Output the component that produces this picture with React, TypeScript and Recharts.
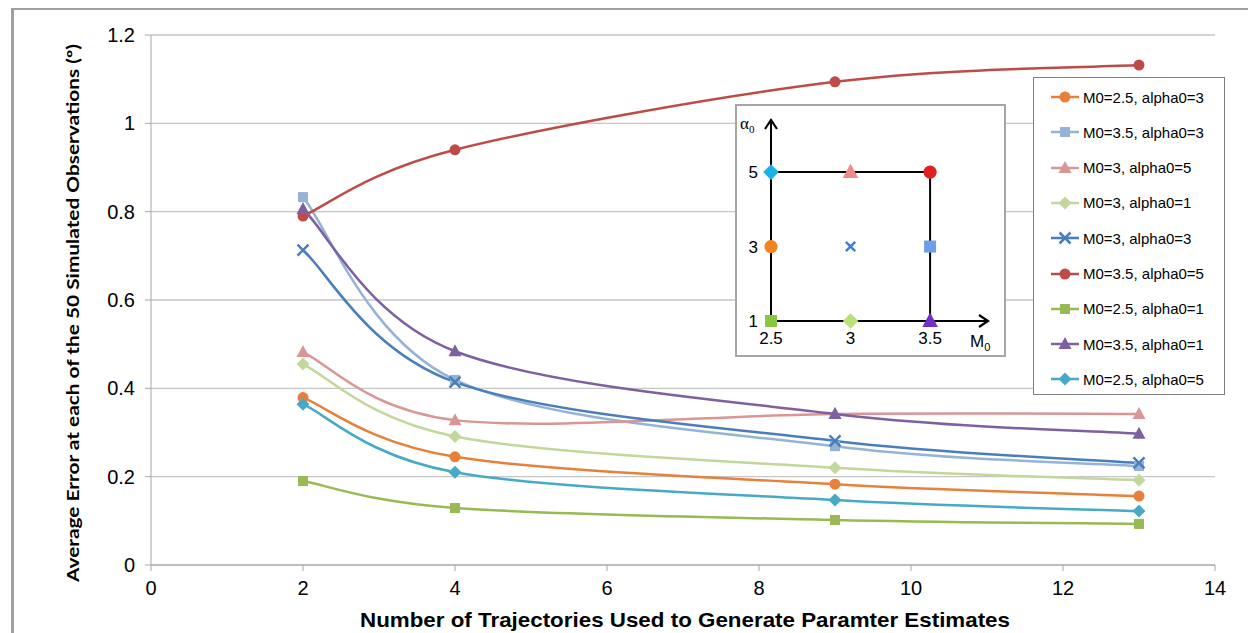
import React from "react";
import {
  LineChart,
  Line,
  XAxis,
  YAxis,
  CartesianGrid,
  Legend,
  ScatterChart,
  Scatter,
  ReferenceLine,
  ReferenceDot,
} from "recharts";

// number of trajectories used for each estimate
const trajectories = [2, 4, 9, 13];

// average error (deg) per parameter combination
const m25a3 = [0.379, 0.245, 0.183, 0.156];
const m35a3 = [0.833, 0.419, 0.269, 0.224];
const m3a5 = [0.482, 0.328, 0.342, 0.342];
const m3a1 = [0.455, 0.291, 0.22, 0.192];
const m3a3 = [0.713, 0.414, 0.281, 0.231];
const m35a5 = [0.79, 0.94, 1.094, 1.132];
const m25a1 = [0.19, 0.129, 0.102, 0.093];
const m35a1 = [0.806, 0.484, 0.342, 0.297];
const m25a5 = [0.364, 0.21, 0.147, 0.122];

const xTicks = [0, 2, 4, 6, 8, 10, 12, 14];
const yTicks = [0, 0.2, 0.4, 0.6, 0.8, 1, 1.2];

// parameter grid shown in the small diagram
const insetM0 = [2.5, 3.5, 3, 3, 3, 3.5, 2.5, 3.5, 2.5];
const insetAlpha0 = [3, 3, 5, 1, 3, 5, 1, 1, 5];
const insetM0Ticks = [2.5, 3, 3.5];
const insetAlphaTicks = [1, 3, 5];

type Shape = "circle" | "square" | "triangle" | "diamond" | "x";

const series: { key: string; name: string; values: number[]; color: string; dotColor: string; shape: Shape }[] = [
  { key: "m25a3", name: "M0=2.5, alpha0=3", values: m25a3, color: "#E6803A", dotColor: "#F58220", shape: "circle" },
  { key: "m35a3", name: "M0=3.5, alpha0=3", values: m35a3, color: "#95B3D7", dotColor: "#6E9EE6", shape: "square" },
  { key: "m3a5", name: "M0=3, alpha0=5", values: m3a5, color: "#D99694", dotColor: "#F08A8A", shape: "triangle" },
  { key: "m3a1", name: "M0=3, alpha0=1", values: m3a1, color: "#C3D69B", dotColor: "#B8E07A", shape: "diamond" },
  { key: "m3a3", name: "M0=3, alpha0=3", values: m3a3, color: "#4A7EBB", dotColor: "#3A7FE0", shape: "x" },
  { key: "m35a5", name: "M0=3.5, alpha0=5", values: m35a5, color: "#BE4B48", dotColor: "#E0201F", shape: "circle" },
  { key: "m25a1", name: "M0=2.5, alpha0=1", values: m25a1, color: "#98B954", dotColor: "#8CC63F", shape: "square" },
  { key: "m35a1", name: "M0=3.5, alpha0=1", values: m35a1, color: "#7D60A0", dotColor: "#7030C8", shape: "triangle" },
  { key: "m25a5", name: "M0=2.5, alpha0=5", values: m25a5, color: "#46AAC5", dotColor: "#1AB2E8", shape: "diamond" },
];

const data = trajectories.map((n, i) => {
  const row: Record<string, number> = { n };
  series.forEach((s) => (row[s.key] = s.values[i]));
  return row;
});

const insetData = insetM0.map((m, i) => ({ m, a: insetAlpha0[i], idx: i }));

// spreadsheet-style smoothing: cubic bezier through every point (Catmull-Rom, 1/6 tangents)
const smoothCurve: any = (context: any) => {
  let pts: number[][] = [];
  return {
    areaStart() {},
    areaEnd() {},
    lineStart() {
      pts = [];
    },
    point(x: number, y: number) {
      pts.push([+x, +y]);
    },
    lineEnd() {
      const n = pts.length;
      if (!n) return;
      context.moveTo(pts[0][0], pts[0][1]);
      for (let i = 0; i < n - 1; i++) {
        const p0 = pts[Math.max(i - 1, 0)];
        const p1 = pts[i];
        const p2 = pts[i + 1];
        const p3 = pts[Math.min(i + 2, n - 1)];
        context.bezierCurveTo(
          p1[0] + (p2[0] - p0[0]) / 6,
          p1[1] + (p2[1] - p0[1]) / 6,
          p2[0] - (p3[0] - p1[0]) / 6,
          p2[1] - (p3[1] - p1[1]) / 6,
          p2[0],
          p2[1]
        );
      }
    },
  };
};

const Marker = ({ shape, cx, cy, color, k = 1 }: { shape: Shape; cx: number; cy: number; color: string; k?: number }) => {
  if (cx == null || cy == null) return null;
  switch (shape) {
    case "circle":
      return <circle cx={cx} cy={cy} r={5.5 * k} fill={color} />;
    case "square":
      return <rect x={cx - 5 * k} y={cy - 5 * k} width={10 * k} height={10 * k} fill={color} />;
    case "triangle":
      return (
        <polygon
          points={`${cx},${cy - 7 * k} ${cx + 6.5 * k},${cy + 5 * k} ${cx - 6.5 * k},${cy + 5 * k}`}
          fill={color}
        />
      );
    case "diamond":
      return (
        <polygon
          points={`${cx},${cy - 6.5 * k} ${cx + 6.5 * k},${cy} ${cx},${cy + 6.5 * k} ${cx - 6.5 * k},${cy}`}
          fill={color}
        />
      );
    default:
      return (
        <path
          d={`M${cx - 5.5 * k},${cy - 5.5 * k}L${cx + 5.5 * k},${cy + 5.5 * k}M${cx + 5.5 * k},${cy - 5.5 * k}L${cx - 5.5 * k},${cy + 5.5 * k}`}
          stroke={color}
          strokeWidth={2.5}
          fill="none"
        />
      );
  }
};

const LegendBox = () => (
  <div
    style={{
      width: 190,
      height: 316,
      border: "1px solid #808080",
      background: "#fff",
      fontFamily: "Liberation Sans, Arial, sans-serif",
      fontSize: 15,
      position: "relative",
    }}
  >
    {series.map((s, i) => (
      <div key={s.key} style={{ position: "absolute", left: 16, top: 8 + i * 35.3, height: 22, display: "flex", alignItems: "center" }}>
        <svg width={30} height={22}>
          <line x1={1} y1={11} x2={29} y2={11} stroke={s.color} strokeWidth={2.5} />
          <Marker shape={s.shape} cx={15} cy={11} color={s.color} />
        </svg>
        <span style={{ marginLeft: 3, whiteSpace: "nowrap", color: "#000" }}>{s.name}</span>
      </div>
    ))}
  </div>
);

const tickFont = { fontFamily: "Liberation Sans, Arial, sans-serif", fontSize: 20, fill: "#000" };
const insetFont = { fontFamily: "Liberation Sans, Arial, sans-serif", fontSize: 17, fill: "#000" };

const Inset = () => (
  <div
    style={{
      position: "absolute",
      left: 735,
      top: 104,
      width: 267,
      height: 249,
      border: "2px solid #a6a6a6",
      background: "#fff",
    }}
  >
    <ScatterChart width={267} height={249} margin={{ top: 14, right: 16, bottom: 0, left: 0 }}>
      <XAxis
        type="number"
        dataKey="m"
        domain={[2.5, 3.864]}
        ticks={insetM0Ticks}
        tickLine={false}
        tickSize={0}
        tickMargin={11}
        height={34}
        axisLine={{ stroke: "#000", strokeWidth: 2 }}
        tick={insetFont}
        label={{
          content: ({ viewBox }: any) => (
            <text x={viewBox.x + 199} y={viewBox.y + 26} fontFamily="Liberation Sans, Arial, sans-serif" fontSize={17} fill="#000">
              M<tspan dy={4} fontSize={11}>0</tspan>
            </text>
          ),
        }}
      />
      <YAxis
        type="number"
        dataKey="a"
        domain={[1, 6.4]}
        ticks={insetAlphaTicks}
        tickLine={false}
        tickSize={0}
        tickMargin={13}
        width={34}
        axisLine={{ stroke: "#000", strokeWidth: 2 }}
        tick={insetFont}
        label={{
          content: ({ viewBox }: any) => (
            <text x={viewBox.x + 3} y={viewBox.y + 9} fontFamily="Liberation Serif, serif" fontSize={17} fill="#000">
              α<tspan dy={4} fontSize={11}>0</tspan>
            </text>
          ),
        }}
      />
      <ReferenceLine segment={[{ x: 2.5, y: 5 }, { x: 3.5, y: 5 }]} stroke="#000" strokeWidth={2} />
      <ReferenceLine segment={[{ x: 3.5, y: 1 }, { x: 3.5, y: 5 }]} stroke="#000" strokeWidth={2} />
      <ReferenceDot
        x={3.864}
        y={1}
        shape={({ cx, cy }: any) => (
          <path d={`M${cx - 9},${cy - 6}L${cx},${cy}L${cx - 9},${cy + 6}`} stroke="#000" strokeWidth={2.2} fill="none" />
        )}
      />
      <ReferenceDot
        x={2.5}
        y={6.4}
        shape={({ cx, cy }: any) => (
          <path d={`M${cx - 6},${cy + 9}L${cx},${cy}L${cx + 6},${cy + 9}`} stroke="#000" strokeWidth={2.2} fill="none" />
        )}
      />
      <Scatter
        data={insetData}
        isAnimationActive={false}
        shape={(p: any) => {
          const s = series[p.payload.idx];
          return <Marker shape={s.shape} cx={p.cx} cy={p.cy} color={s.dotColor} k={s.shape === "x" ? 0.85 : 1.2} />;
        }}
      />
    </ScatterChart>
  </div>
);

export default function App() {
  return (
    <div style={{ position: "absolute", left: 0, top: 0, width: 1248, height: 633, background: "#fff", overflow: "hidden" }}>
      <div
        style={{
          position: "absolute",
          left: 11,
          top: 8,
          width: 1260,
          height: 660,
          borderLeft: "3px solid #a0a0a0",
          borderTop: "2px solid #a0a0a0",
        }}
      />
      <div style={{ position: "absolute", left: 0, top: 0 }}>
        <LineChart width={1248} height={633} data={data} margin={{ top: 35, right: 33, bottom: 8, left: 91 }}>
          <CartesianGrid vertical={false} stroke="#c6c6c6" strokeWidth={1.3} />
          <XAxis
            type="number"
            dataKey="n"
            domain={[0, 14]}
            ticks={xTicks}
            height={60}
            tickSize={6}
            tickMargin={10}
            stroke="#a6a6a6"
            tick={tickFont}
            label={{
              content: ({ viewBox }: any) => (
                <text
                  x={viewBox.x + viewBox.width / 2 + 2}
                  y={viewBox.y + 62}
                  textAnchor="middle"
                  fontFamily="Liberation Sans Narrow, Liberation Sans, Arial, sans-serif"
                  fontWeight="bold"
                  fontSize={21}
                  textLength={650}
                  lengthAdjust="spacingAndGlyphs"
                  fill="#000"
                >
                  Number of Trajectories Used to Generate Paramter Estimates
                </text>
              ),
            }}
          />
          <YAxis
            type="number"
            domain={[0, 1.2]}
            ticks={yTicks}
            width={60}
            tickSize={6}
            tickMargin={10}
            stroke="#a6a6a6"
            tick={tickFont}
            label={{
              content: () => (
                <text
                  x={72}
                  y={313}
                  transform="rotate(-90, 72, 313)"
                  textAnchor="middle"
                  dominantBaseline="central"
                  fontFamily="Lato, Open Sans, sans-serif"
                  fontWeight="bold"
                  fontSize={17}
                  textLength={538}
                  lengthAdjust="spacingAndGlyphs"
                  fill="#000"
                >
                  Average Error at each of the 50 Simulated Observations (º)
                </text>
              ),
            }}
          />
          {series.map((s) => (
            <Line
              key={s.key}
              dataKey={s.key}
              name={s.name}
              type={smoothCurve}
              stroke={s.color}
              strokeWidth={2.5}
              isAnimationActive={false}
              activeDot={false}
              dot={(p: any) => (
                <Marker key={`${s.key}-${p.index}`} shape={s.shape} cx={p.cx} cy={p.cy} color={s.color} />
              )}
            />
          ))}
          <Legend
            layout="vertical"
            align="center"
            verticalAlign="middle"
            wrapperStyle={{ left: 1033, top: 77, width: 192, height: 318 }}
            content={() => <LegendBox />}
          />
        </LineChart>
      </div>
      <Inset />
    </div>
  );
}
